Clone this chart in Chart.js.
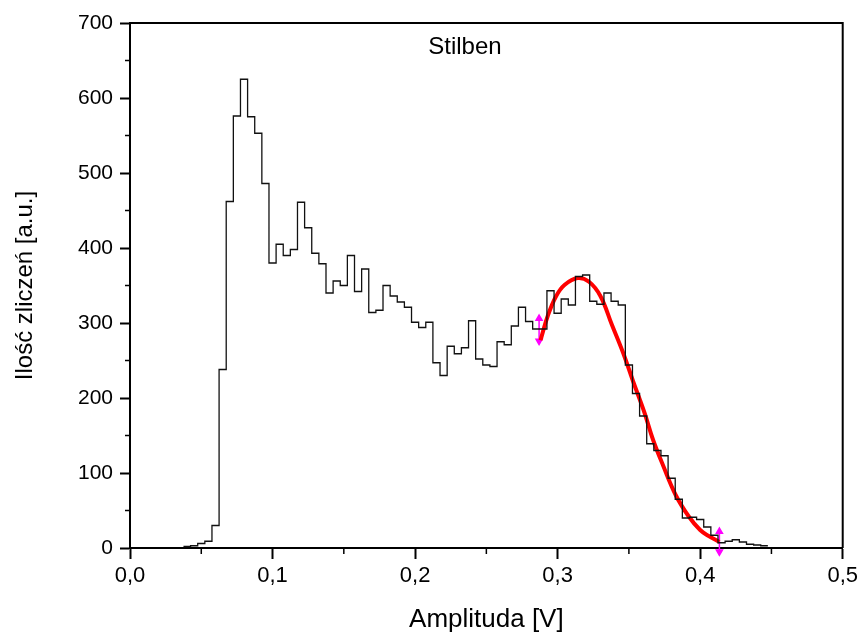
<!DOCTYPE html>
<html>
<head>
<meta charset="utf-8">
<script src="https://cdn.jsdelivr.net/npm/chart.js@4"></script>
<style>
  body { margin: 0; background: #fff; }
</style>
</head>
<body>
<canvas id="chart" width="862" height="635"></canvas>
<script>
// histogram bins (centres, V) and counts
const binWidth = 0.005;
const binCentres = [
  0.040, 0.045, 0.050, 0.055, 0.060, 0.065, 0.070, 0.075, 0.080, 0.085,
  0.090, 0.095, 0.100, 0.105, 0.110, 0.115, 0.120, 0.125, 0.130, 0.135,
  0.140, 0.145, 0.150, 0.155, 0.160, 0.165, 0.170, 0.175, 0.180, 0.185,
  0.190, 0.195, 0.200, 0.205, 0.210, 0.215, 0.220, 0.225, 0.230, 0.235,
  0.240, 0.245, 0.250, 0.255, 0.260, 0.265, 0.270, 0.275, 0.280, 0.285,
  0.290, 0.295, 0.300, 0.305, 0.310, 0.315, 0.320, 0.325, 0.330, 0.335,
  0.340, 0.345, 0.350, 0.355, 0.360, 0.365, 0.370, 0.375, 0.380, 0.385,
  0.390, 0.395, 0.400, 0.405, 0.410, 0.415, 0.420, 0.425, 0.430, 0.435,
  0.440, 0.445
];
const counts = [
  2, 3, 6, 9, 30, 238, 462, 576, 625, 575,
  553, 486, 380, 405, 390, 398, 461, 427, 393, 379,
  340, 356, 350, 390, 342, 372, 314, 317, 350, 336,
  328, 321, 301, 294, 301, 247, 230, 269, 259, 267,
  303, 252, 244, 242, 275, 271, 296, 321, 302, 292,
  292, 343, 313, 332, 324, 362, 364, 329, 325, 340,
  329, 324, 244, 206, 176, 139, 130, 123, 93, 65,
  40, 41, 38, 28, 17, 7, 9, 11, 8, 5,
  4, 3
];

// fitted peak (red)
const fitX = [0.288, 0.293, 0.299, 0.305, 0.314, 0.322, 0.330, 0.338, 0.346,
              0.353, 0.361, 0.367, 0.374, 0.383, 0.392, 0.400, 0.406, 0.4135];
const fitY = [277, 309, 336, 351, 360, 355, 336, 298, 260,
              222, 180, 144, 110, 70, 42, 24, 16, 8];

// fit range markers (magenta arrows)
const markerX = [0.287, 0.4135];
const markerTop = [306, 22];
const markerBottom = [276, -5];

const xTicks = [0, 0.1, 0.2, 0.3, 0.4, 0.5];
const yTicks = [0, 100, 200, 300, 400, 500, 600, 700];

// step outline: left edge of each bin, plus the right edge of the last one
const histPoints = binCentres.map((c, i) => ({ x: c - binWidth / 2, y: counts[i] }));
histPoints.push({ x: binCentres[binCentres.length - 1] + binWidth / 2, y: counts[counts.length - 1] });

const fitPoints = fitX.map((x, i) => ({ x: x, y: fitY[i] }));

const markerSets = markerX.map((x, i) => ({
  data: [{ x: x, y: markerTop[i] }, { x: x, y: markerBottom[i] }],
  showLine: true,
  borderColor: '#ff00ff',
  backgroundColor: '#ff00ff',
  borderWidth: 1.5,
  pointStyle: 'triangle',
  pointRadius: 3.5,
  rotation: [0, 180],
  clip: false
}));

const fontFamily = '"Liberation Sans", Arial, sans-serif';

// minor ticks, frame and inner label
const extras = {
  id: 'extras',
  afterDraw(chart) {
    const ctx = chart.ctx;
    const x = chart.scales.x, y = chart.scales.y;
    const a = chart.chartArea;
    ctx.save();
    ctx.strokeStyle = '#000';
    ctx.lineWidth = 1.5;
    ctx.beginPath();
    for (let v = 50; v < 700; v += 100) {
      const py = y.getPixelForValue(v);
      ctx.moveTo(a.left - 5, py);
      ctx.lineTo(a.left, py);
    }
    for (let v = 0.05; v < 0.5; v += 0.1) {
      const px = x.getPixelForValue(v);
      ctx.moveTo(px, a.bottom);
      ctx.lineTo(px, a.bottom + 6);
    }
    ctx.stroke();
    ctx.lineWidth = 2;
    ctx.beginPath();
    ctx.moveTo(a.left, a.top);
    ctx.lineTo(a.right, a.top);
    ctx.lineTo(a.right, a.bottom);
    ctx.stroke();
    ctx.fillStyle = '#000';
    ctx.font = '24px ' + fontFamily;
    ctx.textAlign = 'center';
    ctx.textBaseline = 'middle';
    ctx.fillText('Stilben', x.getPixelForValue(0.235), y.getPixelForValue(668));
    ctx.restore();
  }
};

const ctx = document.getElementById('chart').getContext('2d');
new Chart(ctx, {
  type: 'scatter',
  data: {
    datasets: [
      {
        data: histPoints,
        showLine: true,
        stepped: true,
        borderColor: '#111',
        borderWidth: 1.3,
        pointRadius: 0
      },
      {
        data: fitPoints,
        showLine: true,
        tension: 0.4,
        borderColor: '#ff0000',
        borderWidth: 4,
        pointRadius: 0
      },
      ...markerSets
    ]
  },
  options: {
    responsive: false,
    animation: false,
    layout: { padding: { left: 0, top: 23, right: 19, bottom: 0 } },
    plugins: {
      legend: { display: false },
      tooltip: { enabled: false }
    },
    scales: {
      x: {
        type: 'linear',
        min: 0,
        max: 0.5,
        afterBuildTicks: s => { s.ticks = xTicks.map(v => ({ value: v })); },
        afterFit: s => { s.height = 87; },
        ticks: {
          color: '#000',
          padding: 4,
          font: { family: fontFamily, size: 22 },
          callback: v => v.toFixed(1).replace('.', ',')
        },
        grid: { drawOnChartArea: false, tickLength: 11, tickWidth: 2, tickColor: '#000' },
        border: { display: true, color: '#000', width: 2 },
        title: {
          display: true,
          text: 'Amplituda [V]',
          color: '#000',
          font: { family: fontFamily, size: 26 },
          padding: { top: 0, bottom: 0 }
        }
      },
      y: {
        type: 'linear',
        min: 0,
        max: 700,
        afterBuildTicks: s => { s.ticks = yTicks.map(v => ({ value: v })); },
        afterFit: s => { s.width = 130; },
        ticks: {
          color: '#000',
          padding: 7,
          font: { family: fontFamily, size: 21 }
        },
        grid: { drawOnChartArea: false, tickLength: 10, tickWidth: 2, tickColor: '#000' },
        border: { display: true, color: '#000', width: 2 },
        title: {
          display: true,
          text: 'Ilość zliczeń [a.u.]',
          color: '#000',
          font: { family: fontFamily, size: 24 },
          padding: { top: 11, bottom: 0 }
        }
      }
    }
  },
  plugins: [extras]
});
</script>
</body>
</html>
